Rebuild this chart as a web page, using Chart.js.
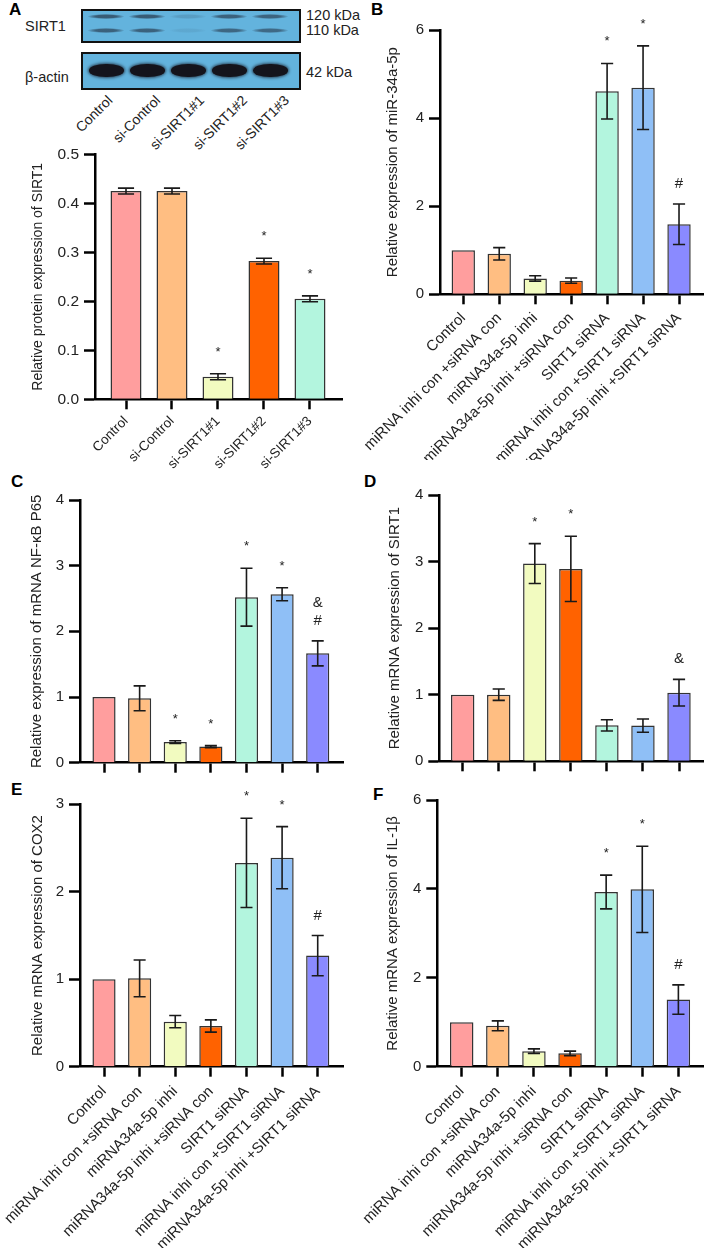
<!DOCTYPE html>
<html><head><meta charset="utf-8">
<script src="https://cdn.jsdelivr.net/npm/chart.js@4.4.1/dist/chart.umd.min.js"></script>
<style>
html,body{margin:0;padding:0;background:#fff;}
body{width:709px;height:1248px;position:relative;overflow:hidden;font-family:"Liberation Sans",Arial,sans-serif;color:#222;}
.panel{position:absolute;}
.panel canvas{display:block;}
.letter{position:absolute;font-weight:bold;font-size:17px;line-height:17px;color:#000;}
.blot{position:absolute;border:2.5px solid #111;background:#63b3dd;box-sizing:border-box;overflow:hidden;}
.band{position:absolute;border-radius:50%;}
.lbl{position:absolute;font-size:14.5px;line-height:16px;white-space:nowrap;color:#222;}
.lane{position:absolute;font-size:14px;line-height:16px;white-space:nowrap;color:#222;transform-origin:100% 0;transform:rotate(-45deg);}
</style></head><body>

<div class="letter" style="left:9px;top:1px;">A</div>
<div class="letter" style="left:371px;top:1px;">B</div>
<div class="letter" style="left:11px;top:473px;">C</div>
<div class="letter" style="left:364px;top:473px;">D</div>
<div class="letter" style="left:11px;top:781px;">E</div>
<div class="letter" style="left:373px;top:786px;">F</div>

<div id="blot"></div>

<div class="panel" style="left:360px;top:0;width:349px;height:460px;"><canvas id="cB" width="349" height="460"></canvas></div>
<div class="panel" style="left:0;top:470px;width:355px;height:310px;"><canvas id="cC" width="355" height="310"></canvas></div>
<div class="panel" style="left:360px;top:470px;width:349px;height:310px;"><canvas id="cD" width="349" height="310"></canvas></div>
<div class="panel" style="left:0;top:780px;width:355px;height:468px;"><canvas id="cE" width="355" height="468"></canvas></div>
<div class="panel" style="left:360px;top:780px;width:349px;height:468px;"><canvas id="cF" width="349" height="468"></canvas></div>
<div class="panel" style="left:0;top:140px;width:355px;height:340px;"><canvas id="cA" width="355" height="340"></canvas></div>

<script>
// ---------------- DATA ----------------
const knockdownLabels = ['Control', 'si-Control', 'si-SIRT1#1', 'si-SIRT1#2', 'si-SIRT1#3'];
const sirt1ProteinValues = [0.425, 0.425, 0.046, 0.282, 0.205];
const sirt1ProteinErrors = [0.006, 0.006, 0.006, 0.006, 0.006];
const sirt1ProteinMarks = ['', '', '*', '*', '*'];
const sirt1ProteinTicks = [0, 0.1, 0.2, 0.3, 0.4, 0.5];

const groupLabels = ['Control', 'miRNA inhi con +siRNA con', 'miRNA34a-5p inhi',
  'miRNA34a-5p inhi +siRNA con', 'SIRT1 siRNA', 'miRNA inhi con +SIRT1 siRNA',
  'miRNA34a-5p inhi +SIRT1 siRNA'];

const mir34Values = [1.0, 0.92, 0.36, 0.31, 4.61, 4.69, 1.59];
const mir34Errors = [0, 0.14, 0.06, 0.06, 0.63, 0.95, 0.46];
const mir34Marks = ['', '', '', '', '*', '*', '#'];
const mir34Ticks = [0, 2, 4, 6];

const nfkbValues = [1.0, 0.98, 0.315, 0.245, 2.52, 2.565, 1.665];
const nfkbErrors = [0, 0.19, 0.02, 0.015, 0.44, 0.1, 0.19];
const nfkbMarks = ['', '', '*', '*', '*', '*', '&\n#'];
const nfkbTicks = [0, 1, 2, 3, 4];

const sirt1MrnaValues = [1.0, 1.0, 2.97, 2.89, 0.54, 0.536, 1.03];
const sirt1MrnaErrors = [0, 0.085, 0.3, 0.49, 0.085, 0.1, 0.2];
const sirt1MrnaMarks = ['', '', '*', '*', '', '', '&'];
const sirt1MrnaTicks = [0, 1, 2, 3, 4];

const cox2Values = [1.0, 1.01, 0.515, 0.465, 2.33, 2.39, 1.27];
const cox2Errors = [0, 0.21, 0.07, 0.07, 0.51, 0.355, 0.23];
const cox2Marks = ['', '', '', '', '*', '*', '#'];
const cox2Ticks = [0, 1, 2, 3];

const il1bValues = [1.0, 0.92, 0.35, 0.30, 3.93, 3.99, 1.51];
const il1bErrors = [0, 0.11, 0.05, 0.05, 0.38, 0.97, 0.33];
const il1bMarks = ['', '', '', '', '*', '*', '#'];
const il1bTicks = [0, 2, 4, 6];

// ---------------- STYLE ----------------
const barColors = ['#FF9E9E', '#FFBE82', '#F2FBC0', '#FF6200', '#B3F5DE', '#8FBFF6', '#8A8AFF'];
const FONT = '"Liberation Sans", Arial, sans-serif';
Chart.defaults.font.family = FONT;
Chart.defaults.color = '#222';

// ---------------- WESTERN BLOT (decorative) ----------------
(function buildBlot() {
  const root = document.getElementById('blot');
  const add = (html) => root.insertAdjacentHTML('beforeend', html);
  add('<div class="blot" style="left:81px;top:9px;width:220px;height:34px;"></div>');
  add('<div class="blot" style="left:81px;top:52px;width:220px;height:38px;"></div>');
  const lanes = [106, 147, 188, 229, 270];
  const topA = [0.8, 0.8, 0.2, 0.75, 0.72];
  const botA = [0.75, 0.75, 0.1, 0.7, 0.68];
  lanes.forEach((cx, i) => {
    add(`<div class="band" style="left:${cx-18}px;top:13.5px;width:36px;height:5px;background:radial-gradient(ellipse at center, rgba(45,70,92,${topA[i]}) 40%, rgba(45,70,92,0) 75%);"></div>`);
    add(`<div class="band" style="left:${cx-18}px;top:27.5px;width:36px;height:5px;background:radial-gradient(ellipse at center, rgba(45,70,92,${botA[i]}) 40%, rgba(45,70,92,0) 75%);"></div>`);
    add(`<div class="band" style="left:${cx-17.5}px;top:63.5px;width:35px;height:13px;background:#14141c;border-radius:48%;box-shadow:0 0 3px 1px rgba(20,20,30,0.7);"></div>`);
  });
  add('<div class="lbl" style="left:25px;top:18px;">SIRT1</div>');
  add('<div class="lbl" style="left:25px;top:69px;">β-actin</div>');
  add('<div class="lbl" style="left:306px;top:7px;">120 kDa</div>');
  add('<div class="lbl" style="left:306px;top:22px;">110 kDa</div>');
  add('<div class="lbl" style="left:306px;top:64px;">42 kDa</div>');
  const ends = [104, 152, 196, 239, 281];
  knockdownLabels.forEach((t, i) => {
    add(`<div class="lane" style="right:${709-ends[i]}px;top:92px;">${t}</div>`);
  });
})();

// ---------------- ERROR BAR / MARK PLUGIN ----------------
function errorPlugin(errors, marks) {
  return {
    id: 'errorBars',
    afterDatasetsDraw(chart) {
      const ctx = chart.ctx;
      const y = chart.scales.y;
      const meta = chart.getDatasetMeta(0);
      const ds = chart.data.datasets[0];
      ctx.save();
      meta.data.forEach((bar, i) => {
        const v = ds.data[i].y;
        const e = errors[i];
        const x = bar.x;
        const top = y.getPixelForValue(v + e);
        if (e > 0) {
          const bot = y.getPixelForValue(v - e);
          const cap = bar.width * 0.26;
          ctx.strokeStyle = '#1a1a1a';
          ctx.lineWidth = 1.6;
          ctx.beginPath();
          ctx.moveTo(x, top); ctx.lineTo(x, bot);
          ctx.moveTo(x - cap, top); ctx.lineTo(x + cap, top);
          ctx.moveTo(x - cap, bot); ctx.lineTo(x + cap, bot);
          ctx.stroke();
        }
        const m = marks[i];
        if (m) {
          const lines = m.split('\n');
          ctx.fillStyle = '#222';
          ctx.textAlign = 'center';
          ctx.textBaseline = 'alphabetic';
          for (let k = lines.length - 1, n = 0; k >= 0; k--, n++) {
            const t = lines[k];
            if (t === '*') {
              ctx.font = '13px ' + FONT;
              ctx.fillText(t, x, top - 18 - n * 17.5);
            } else {
              ctx.font = '15px ' + FONT;
              ctx.fillText(t, x, top - 16 - n * 17.5);
            }
          }
        }
      });
      ctx.restore();
    }
  };
}

function buildChart(id, o) {
  const data = o.values.map((v, i) => ({ x: i, y: v }));
  return new Chart(document.getElementById(id), {
    type: 'bar',
    data: {
      datasets: [{
        data,
        backgroundColor: barColors.slice(0, o.values.length),
        borderColor: '#333',
        borderWidth: 1.5,
        barPercentage: o.barPct,
        categoryPercentage: 1
      }]
    },
    options: {
      responsive: false,
      animation: false,
      devicePixelRatio: 1,
      layout: { padding: { top: o.padTop, right: o.padRight, left: 0, bottom: 0 } },
      plugins: { legend: { display: false }, tooltip: { enabled: false } },
      scales: {
        x: {
          type: 'linear',
          min: o.xMin, max: o.xMax,
          offset: false,
          afterBuildTicks: (s) => { s.ticks = o.labels.map((_, i) => ({ value: i })); },
          afterFit: (s) => { s.height = o.xHeight; },
          ticks: {
            autoSkip: false, minRotation: 45, maxRotation: 45, padding: o.xPad,
            color: '#222', font: { size: o.xFont },
            callback: (v) => (o.showLabels ? o.labels[v] : '')
          },
          grid: { offset: false, drawOnChartArea: false, drawTicks: true, tickLength: 10, tickWidth: 2.5, tickColor: '#000', color: '#000' },
          border: { display: true, color: '#000', width: 2.5 }
        },
        y: {
          min: o.ticks[0], max: o.ticks[o.ticks.length - 1],
          afterBuildTicks: (s) => { s.ticks = o.ticks.map((v) => ({ value: v })); },
          afterFit: (s) => { s.width = o.yWidth; },
          ticks: { padding: 5, color: '#222', font: { size: o.tickSize }, callback: (v) => o.fmt(v) },
          grid: { drawOnChartArea: false, drawTicks: true, tickLength: 11, tickWidth: 2.5, tickColor: '#000', color: '#000' },
          border: { display: true, color: '#000', width: 2.5 },
          title: { display: true, text: o.title, color: '#222', font: { size: o.titleSize }, padding: { top: o.titlePad, bottom: 0 } }
        }
      }
    },
    plugins: [errorPlugin(o.errors, o.marks)]
  });
}

const intFmt = (v) => String(v);

buildChart('cA', {
  values: sirt1ProteinValues, errors: sirt1ProteinErrors, marks: sirt1ProteinMarks,
  labels: knockdownLabels, showLabels: true, ticks: sirt1ProteinTicks, fmt: (v) => v.toFixed(1),
  title: 'Relative protein expression of SIRT1', titleSize: 14, tickSize: 15.5, titlePad: 29.6,
  xFont: 13.5, xPad: 4,
  yWidth: 95, padTop: 13.3, padRight: 13, xHeight: 80.7, xMin: -0.674, xMax: 4.696, barPct: 0.674
});
buildChart('cB', {
  values: mir34Values, errors: mir34Errors, marks: mir34Marks,
  labels: groupLabels, showLabels: true, ticks: mir34Ticks, fmt: intFmt,
  title: 'Relative expression of miR-34a-5p', titleSize: 15, tickSize: 15, titlePad: 24,
  xFont: 15, xPad: 5,
  yWidth: 80, padTop: 30, padRight: 6, xHeight: 165.7, xMin: -0.647, xMax: 6.667, barPct: 0.65
});
buildChart('cC', {
  values: nfkbValues, errors: nfkbErrors, marks: nfkbMarks,
  labels: groupLabels, showLabels: false, ticks: nfkbTicks, fmt: intFmt,
  title: 'Relative expression of mRNA NF-κB P65', titleSize: 15, tickSize: 15, titlePad: 27.7,
  xFont: 15, xPad: 6,
  yWidth: 80, padTop: 30, padRight: 12, xHeight: 17.3, xMin: -0.674, xMax: 6.71, barPct: 0.65
});
buildChart('cD', {
  values: sirt1MrnaValues, errors: sirt1MrnaErrors, marks: sirt1MrnaMarks,
  labels: groupLabels, showLabels: false, ticks: sirt1MrnaTicks, fmt: intFmt,
  title: 'Relative mRNA expression of SIRT1', titleSize: 15, tickSize: 15, titlePad: 25.7,
  xFont: 15, xPad: 6,
  yWidth: 79.3, padTop: 25, padRight: 5.7, xHeight: 18.7, xMin: -0.649, xMax: 6.674, barPct: 0.65
});
buildChart('cE', {
  values: cox2Values, errors: cox2Errors, marks: cox2Marks,
  labels: groupLabels, showLabels: true, ticks: cox2Ticks, fmt: intFmt,
  title: 'Relative mRNA expression of COX2', titleSize: 15, tickSize: 15, titlePad: 28.5,
  xFont: 15, xPad: 6,
  yWidth: 80, padTop: 24.3, padRight: 12, xHeight: 181.3, xMin: -0.674, xMax: 6.71, barPct: 0.65
});
buildChart('cF', {
  values: il1bValues, errors: il1bErrors, marks: il1bMarks,
  labels: groupLabels, showLabels: true, ticks: il1bTicks, fmt: intFmt,
  title: 'Relative mRNA expression of IL-1β', titleSize: 15, tickSize: 15, titlePad: 24,
  xFont: 15, xPad: 6,
  yWidth: 77.3, padTop: 20, padRight: 5.7, xHeight: 181.3, xMin: -0.676, xMax: 6.69, barPct: 0.65
});
</script>
</body></html>
